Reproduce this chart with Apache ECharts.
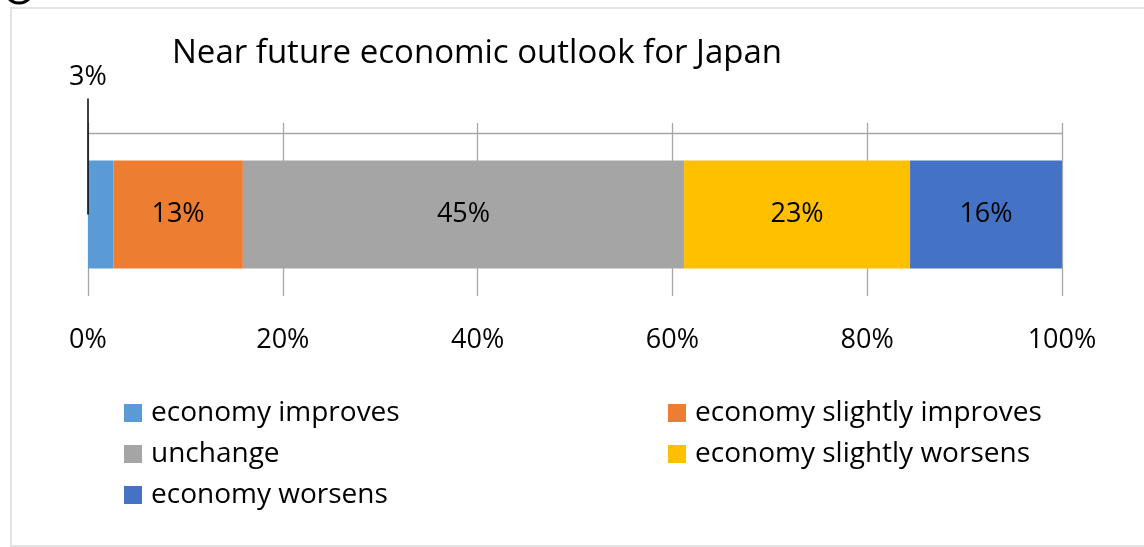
<!DOCTYPE html>
<html>
<head>
<meta charset="utf-8">
<script src="https://cdn.jsdelivr.net/npm/echarts@6/dist/echarts.min.js"></script>
<style>
html,body{margin:0;padding:0;background:#fff;}
#chart{width:1144px;height:547px;}
</style>
</head>
<body>
<div id="chart"></div>
<script>
const chartTitle = 'Near future economic outlook for Japan';
const categories = ['Japan'];
const seriesNames = ['economy improves', 'economy slightly improves', 'unchange', 'economy slightly worsens', 'economy worsens'];
const seriesValues = [2.6, 13.3, 45.3, 23.2, 15.6];
const seriesLabels = ['3%', '13%', '45%', '23%', '16%'];
const seriesColors = ['#5B9BD5', '#ED7D31', '#A5A5A5', '#FFC000', '#4472C4'];
const tickValues = [0, 20, 40, 60, 80, 100];

const FONT = '"Open Sans", "Noto Sans", sans-serif';

const series = seriesNames.map((name, i) => {
  const s = {
    name: name,
    type: 'bar',
    stack: 'total',
    barWidth: 108,
    itemStyle: { color: seriesColors[i] },
    data: [seriesValues[i]],
    label: {
      show: true,
      position: 'inside',
      formatter: () => seriesLabels[i],
      color: '#000',
      fontFamily: FONT,
      fontSize: 27
    },
    emphasis: { disabled: true }
  };
  if (i === 0) {
    s.label = {
      show: true,
      position: [0, '50%'],
      align: 'center',
      verticalAlign: 'bottom',
      formatter: () => '{t|' + seriesLabels[i] + '}\n{l|}',
      rich: {
        t: { color: '#000', fontFamily: FONT, fontSize: 27, lineHeight: 42, align: 'center' },
        l: { width: 1.5, height: 116, backgroundColor: '#000', align: 'center' }
      }
    };
  }
  return s;
});

const legendText = { fontFamily: FONT, fontSize: 28, lineHeight: 28, color: '#000', padding: [0, 0, 0, 4] };

const chart = echarts.init(document.getElementById('chart'), null, { renderer: 'canvas' });
chart.setOption({
  animation: false,
  backgroundColor: '#fff',
  graphic: [
    { type: 'rect', shape: { x: 11, y: 8, width: 1200, height: 538 }, style: { fill: 'none', stroke: '#e3e3e3', lineWidth: 2 }, silent: true },
    { type: 'circle', shape: { cx: 19, cy: -11, r: 14 }, style: { fill: 'none', stroke: '#000', lineWidth: 3 }, silent: true }
  ],
  title: {
    text: chartTitle,
    left: 172,
    top: 37,
    padding: 0,
    textStyle: { fontFamily: FONT, fontSize: 33, fontWeight: 'normal', color: '#000' }
  },
  legend: [
    {
      data: [seriesNames[0], seriesNames[2], seriesNames[4]],
      orient: 'vertical',
      left: 124,
      top: 399,
      padding: 0,
      itemWidth: 18,
      itemHeight: 18,
      itemGap: 13,
      icon: 'rect',
      textStyle: legendText
    },
    {
      data: [seriesNames[1], seriesNames[3]],
      orient: 'vertical',
      left: 668,
      top: 399,
      padding: 0,
      itemWidth: 18,
      itemHeight: 18,
      itemGap: 13,
      icon: 'rect',
      textStyle: legendText
    }
  ],
  grid: { left: 88, right: 82, top: 133, bottom: 251, containLabel: false },
  xAxis: [
    {
      type: 'value',
      min: tickValues[0],
      max: tickValues[tickValues.length - 1],
      interval: tickValues[1] - tickValues[0],
      position: 'bottom',
      axisLine: { show: false },
      axisTick: { show: false },
      axisLabel: { formatter: '{value}%', color: '#000', fontFamily: FONT, fontSize: 27, margin: 31 },
      splitLine: { show: true, lineStyle: { color: '#a6a6a6', width: 1.3 } }
    },
    {
      type: 'value',
      min: tickValues[0],
      max: tickValues[tickValues.length - 1],
      interval: tickValues[1] - tickValues[0],
      position: 'top',
      axisLine: { show: true, lineStyle: { color: '#a6a6a6', width: 1.3 } },
      axisTick: { show: true, length: 10, lineStyle: { color: '#a6a6a6', width: 1.3 } },
      axisLabel: { show: false },
      splitLine: { show: false }
    }
  ],
  yAxis: {
    type: 'category',
    data: categories,
    show: false
  },
  series: series
});
</script>
</body>
</html>
